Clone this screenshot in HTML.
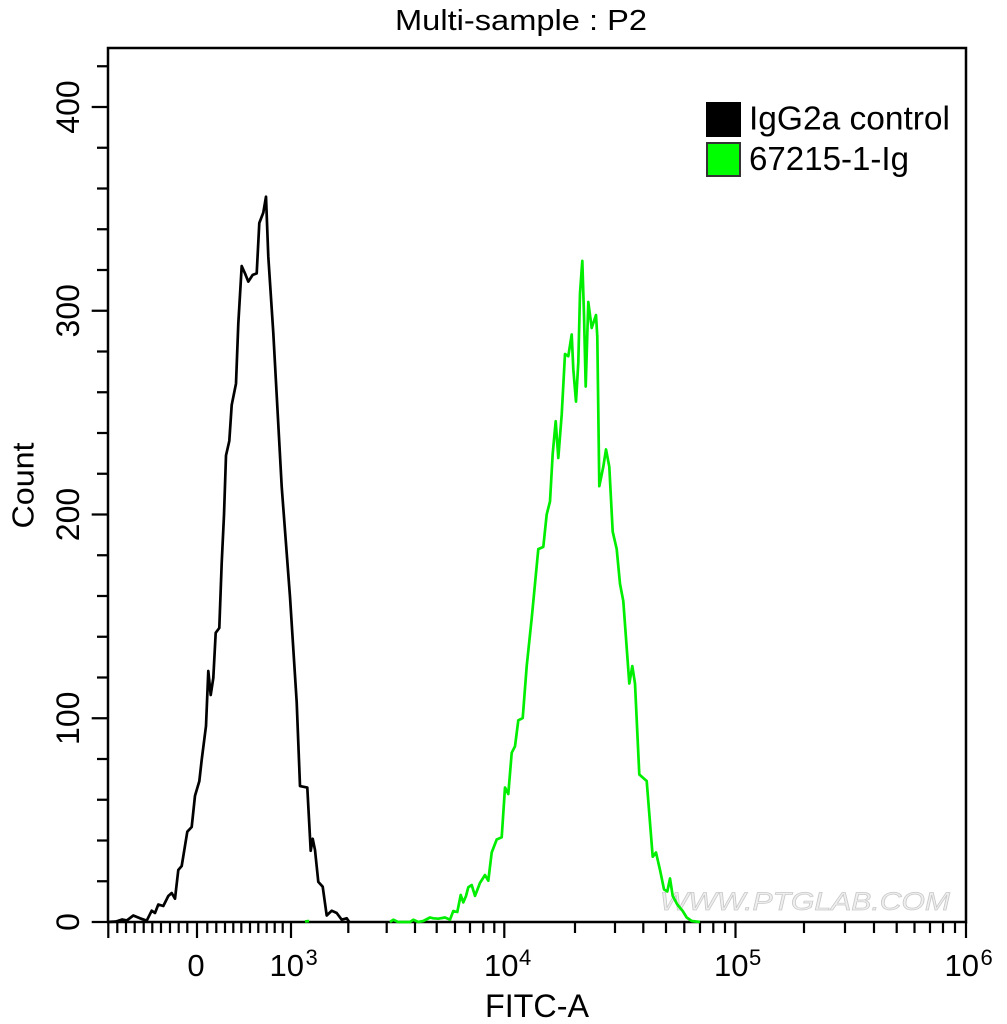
<!DOCTYPE html>
<html>
<head>
<meta charset="utf-8">
<style>
  html,body{margin:0;padding:0;background:#fff;}
  svg{display:block;}
  text{font-family:"Liberation Sans", Arial, sans-serif;fill:#000;}
</style>
</head>
<body>
<svg width="1007" height="1024" viewBox="0 0 1007 1024" xmlns="http://www.w3.org/2000/svg">
  <rect x="0" y="0" width="1007" height="1024" fill="#fff"/>

  <!-- Title -->
  <text x="395" y="30" font-size="29" textLength="252" lengthAdjust="spacingAndGlyphs">Multi-sample : P2</text>

  <!-- Watermark (faint) -->
  <text x="660" y="910" font-size="25" font-style="italic" style="fill:#efefef;stroke:#c8c8c8;stroke-width:0.7px" textLength="290" lengthAdjust="spacingAndGlyphs">WWW.PTGLAB.COM</text>

  <!-- Frame -->
  <path d="M108,48 L966,48 L966,922 L108,922 Z" fill="none" stroke="#000" stroke-width="2.5"/>

  <!-- Y ticks -->
  <path stroke="#000" stroke-width="2.2" fill="none" d="
    M91.7,922 H108
    M97,881.25 H108 M97,840.5 H108 M97,799.75 H108 M97,759 H108
    M91.7,718.25 H108
    M97,677.5 H108 M97,636.75 H108 M97,596 H108 M97,555.25 H108
    M91.7,514.5 H108
    M97,473.75 H108 M97,433 H108 M97,392.25 H108 M97,351.5 H108
    M91.7,310.75 H108
    M97,270 H108 M97,229.25 H108 M97,188.5 H108 M97,147.75 H108
    M91.7,107 H108
    M97,66.25 H108"/>

  <!-- X ticks -->
  <path stroke="#000" stroke-width="2.2" fill="none" d="
    M108.3,922 V938
    M117.3,922 V933 M126,922 V933 M134.7,922 V933 M143.7,922 V933 M152.3,922 V933
    M161,922 V933 M170,922 V933 M178.7,922 V933 M187.3,922 V933
    M197,922 V938
    M207.3,922 V933 M216.3,922 V933 M225,922 V933 M233.3,922 V933 M241.3,922 V933
    M250,922 V933 M258.3,922 V933 M266.7,922 V933 M274.7,922 V933 M282.7,922 V933
    M291,922 V938
    M348.3,922 V933 M386.7,922 V933 M415,922 V933 M436.7,922 V933 M455,922 V933
    M470,922 V933 M483.3,922 V933 M494.3,922 V933
    M504.3,922 V938
    M575,922 V933 M615,922 V933 M643.3,922 V933 M666,922 V933 M684.3,922 V933
    M700,922 V933 M713.3,922 V933 M725,922 V933
    M735.5,922 V938
    M804,922 V933 M845,922 V933 M874,922 V933 M896.7,922 V933 M914.5,922 V933
    M930,922 V933 M943,922 V933 M955,922 V933
    M966,922 V938"/>

  <!-- Y labels -->
  <g font-size="32" text-anchor="middle">
    <text transform="translate(79,922) rotate(-90)">0</text>
    <text transform="translate(79,718.25) rotate(-90)">100</text>
    <text transform="translate(79,514.5) rotate(-90)">200</text>
    <text transform="translate(79,310.75) rotate(-90)">300</text>
    <text transform="translate(79,107) rotate(-90)">400</text>
  </g>
  <text transform="translate(33.5,485.5) rotate(-90)" font-size="31" text-anchor="middle" textLength="86" lengthAdjust="spacingAndGlyphs">Count</text>

  <!-- X labels -->
  <g font-size="31">
    <text x="196" y="976" text-anchor="middle">0</text>
    <text x="269.5" y="976">10</text><text x="305.5" y="965" font-size="22">3</text>
    <text x="484" y="976">10</text><text x="519" y="965" font-size="22">4</text>
    <text x="714" y="976">10</text><text x="749" y="965" font-size="22">5</text>
    <text x="944.5" y="976">10</text><text x="980.5" y="965" font-size="22">6</text>
  </g>
  <text x="485" y="1017" font-size="32" textLength="104" lengthAdjust="spacingAndGlyphs">FITC-A</text>

  <!-- Legend -->
  <rect x="706" y="102" width="35" height="35" fill="#000"/>
  <rect x="707" y="143" width="33" height="33" fill="#00ff00" stroke="#333" stroke-width="2"/>
  <text x="749" y="129.5" font-size="33" textLength="201" lengthAdjust="spacingAndGlyphs">IgG2a control</text>
  <text x="749" y="170" font-size="33" textLength="160" lengthAdjust="spacingAndGlyphs">67215-1-Ig</text>

  <!-- Black histogram -->
  <polyline fill="none" stroke="#000" stroke-width="2.7" stroke-linejoin="round" points="
    107.3,922 116,921.5 122,919.5 126.7,920.5 133.3,915.5 140,918.3 146.7,920.7 151.7,910.7 155,913
    158.3,904.5 163.3,906 168.3,896 171.7,893 175,898.7 178.3,870 181.7,866 187.3,831.7 191.7,827
    195,795.7 199.3,781.3 201.7,759.8 206,726 208.3,671 210.7,695 213.3,678 215.7,632.8 219.3,628
    221.7,563 224,515 226,455.5 229.3,441 231.7,405 236,383.6 238.3,323.7 241.7,266 245,273.4
    248.3,281.6 252.7,274.9 256.7,273.4 259.3,223 263.3,212.6 266,196.7 268.3,256.6 273.3,333
    281.7,486.7 290,596.9 296.7,702.3 300,786.1 307.3,787.6 310.7,850.8 312.7,838.8 315,850
    318.3,881.9 322.7,886.7 326.7,915.5 331.7,910.7 336.7,913 341.7,919.7 346.7,918.3 349.3,922"/>

  <!-- Green histogram -->
  <polyline fill="none" stroke="#00ee00" stroke-width="2.7" stroke-linejoin="round" points="305,921.5 309,921"/>
  <polyline fill="none" stroke="#00ee00" stroke-width="2.7" stroke-linejoin="round" points="
    390,922 393.3,919.7 398,922 410,922 413.3,919.7 418.3,922 423.3,921 430,917.5 433.3,918.3
    438.3,918.7 445,917.5 450,919.7 453.3,911 457.3,912 460.7,895 463.3,902.4 466,896 468.3,887.2
    471.7,885 475,895.9 480,882.9 485,875 488.3,880.7 491.7,852.5 496.7,839.5 501.7,837.3 505,787.5
    508.3,794 511.7,752.8 515,746.3 518.3,720.3 522.7,718.1 526.7,666.1 531.7,618.4 535,583.8
    538.3,549.1 543.3,546.9 546.7,514.4 550,501.4 552.7,453.7 555.7,421.2 558.3,458 561.7,414.7
    565,354 568.3,356.2 571.7,334.5 573.3,369.2 576,401.7 578.3,362.7 580,293.3 582.3,260.8 584,315
    585.7,386.5 588.3,302 591.7,328 596,315 597.3,336.7 599.3,486.2 603.3,466.7 606,449.4 609.3,466.7
    612.7,531.7 616.7,549.1 620,583.8 623.3,601.1 629.3,683.5 632.3,666.1 635,683.5 639.3,774.5
    646.7,781 652.7,856.8 656,852.5 660,869.9 664,889.4 667.3,891.5 670,878.5 672.7,895.9 677.3,904.5
    682.7,911 686.7,917.5 691.7,921 700,922"/>
</svg>
</body>
</html>
